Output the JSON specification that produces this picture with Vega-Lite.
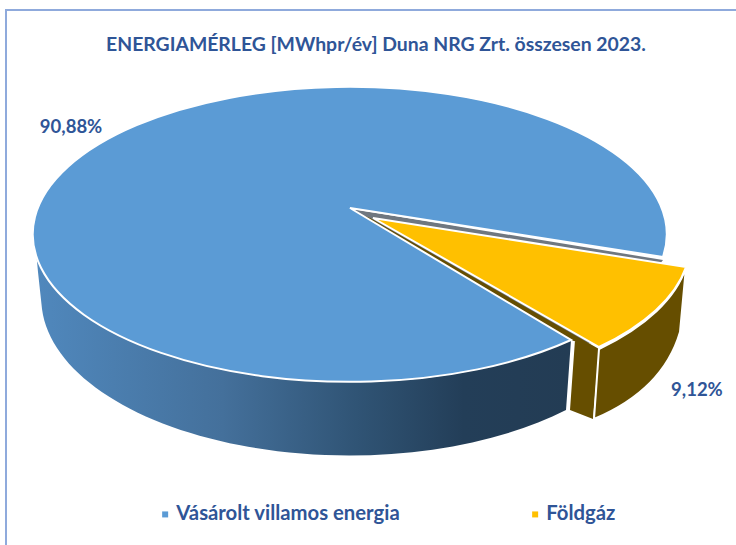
{
"$schema":"https://vega.github.io/schema/vega-lite/v6.json",
"width":740,"height":540,
"padding":{"left":6,"top":10,"right":0,"bottom":0},
"autosize":{"type":"none"},
"background":"white",
"view":{"stroke":"#8FAADC","strokeWidth":2,"fill":"white"},
"title":{"text":"ENERGIAMÉRLEG [MWhpr/év] Duna NRG Zrt. összesen 2023.","font":"Lato","fontSize":19.4,"fontWeight":"bold","color":"#2F5597","anchor":"middle","frame":"group","baseline":"middle","offset":0,"dy":54},
"data":{"values":[
{"category":"Vásárolt villamos energia","share":90.88,"label":"90,88%"},
{"category":"Földgáz","share":9.12,"label":"9,12%"}
]},
"encoding":{
"color":{"field":"category","type":"nominal",
"scale":{"domain":["Vásárolt villamos energia","Földgáz"],"range":["#5B9BD5","#FFC000"]},
"legend":{"title":null,"orient":"none","legendX":149,"legendY":494,"direction":"horizontal","columns":2,"columnPadding":124,"symbolType":"square","symbolSize":36,"symbolStrokeWidth":0,"labelFont":"Lato","labelFontSize":20.3,"labelFontWeight":"bold","labelColor":"#2F5597","labelOffset":1,"symbolOpacity":1,"labelLimit":400}}
},
"layer":[
{"transform":[{"filter":"datum.share > 50"}],
"mark":{"type":"point","filled":true,"opacity":1,"size":4,"strokeWidth":0,
"shape":"M-341,-40L-338,-8L-334,29A308,157 0 0 0 190,130L195,60A315.5,147.5 0 0 1 -341,-40Z",
"fill":{"gradient":"linear","x1":0,"x2":1,"y1":0,"y2":0,"stops":[{"offset":0,"color":"#5088BD"},{"offset":0.35,"color":"#44709B"},{"offset":0.6,"color":"#305475"},{"offset":0.8,"color":"#233E58"},{"offset":1,"color":"#233C54"}]}},
"encoding":{"color":{"value":null}}},
{"transform":[{"filter":"datum.share > 50"}],
"mark":{"type":"point","filled":true,"opacity":1,"size":4,"strokeWidth":0,"fill":"#6F7780",
"shape":"M-24,-71L287,-20L224,65L195,60Z"},
"encoding":{"color":{"value":null}}},
{"transform":[{"filter":"datum.share < 50"}],
"mark":{"type":"point","filled":true,"opacity":1,"size":4,"strokeWidth":0,"fill":"#664E00",
"shape":"M-6,-62L223,69L195,60L-14,-65Z M199,60L223,69L217,139L194,130Z"},
"encoding":{"color":{"value":null}}},
{"transform":[{"filter":"datum.share < 50"}],
"mark":{"type":"point","filled":true,"opacity":1,"size":4,"fill":"#664E00","stroke":"white","strokeWidth":2,
"shape":"M310,-13L304,52Q287,110 218,139L223,69A315.5,147.5 0 0 0 310,-13Z"},
"encoding":{"color":{"value":null}}},
{"transform":[{"filter":"datum.share > 50"}],
"mark":{"type":"point","filled":true,"opacity":1,"size":4,"stroke":"white","strokeWidth":2,"shape":"M-26,-72L287,-23A317,147.5 0 1 0 195,60Z"}},
{"transform":[{"filter":"datum.share < 50"}],
"mark":{"type":"point","filled":true,"opacity":1,"size":4,"stroke":"white","strokeWidth":2,"shape":"M-3,-62L310,-13A315.5,147.5 0 0 1 223,67Z"}},
{"mark":{"type":"text","font":"Lato","fontSize":18.5,"fontWeight":"bold","color":"#2F5597","radius":339.5,"dx":8,"dy":-21.5,"align":"center","baseline":"middle"},
"encoding":{
"color":{"value":"#2F5597"},
"theta":{"field":"share","type":"quantitative","stack":true,"scale":{"domain":[0,100],"range":[1.6825,7.9657]}},
"order":{"field":"share","sort":"ascending"},
"detail":{"field":"category"},
"text":{"field":"label"}
}}
]
}
